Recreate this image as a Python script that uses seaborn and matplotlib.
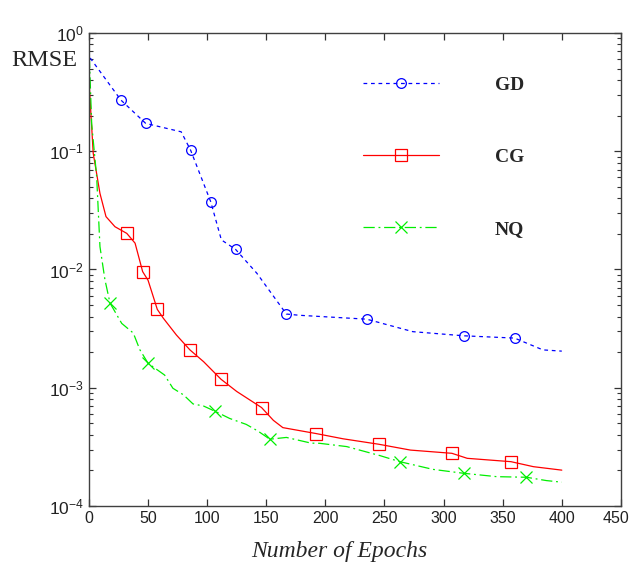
import numpy as np
import pandas as pd
import matplotlib
matplotlib.use("Agg")
import matplotlib.pyplot as plt
import matplotlib.transforms as mtransforms
import seaborn as sns
from matplotlib.ticker import LogLocator, LogFormatterMathtext, NullFormatter

# ---- data ----
gd_x = [1, 27, 48, 78, 86, 103, 112, 124, 142, 167, 178, 235, 274, 317, 360, 384, 400]
gd_y = [0.615, 0.271, 0.172, 0.146, 0.102, 0.0374, 0.0178, 0.0148, 0.0093, 0.0042,
        0.0041, 0.0038, 0.00298, 0.00275, 0.00263, 0.00209, 0.00204]
gd_marks = [1, 2, 4, 5, 7, 9, 11, 13, 14]

cg_x = [0, 3.6, 9.3, 14.4, 22, 32, 39, 45.4, 50, 57.8, 63, 74, 85.4, 97, 111.7, 125, 146,
        156, 164, 192, 215, 245, 272, 307, 320, 357, 376, 400]
cg_y = [0.40, 0.096, 0.044, 0.028, 0.023, 0.0202, 0.0167, 0.0096, 0.0081, 0.0046, 0.00386,
        0.00279, 0.00209, 0.00166, 0.00118, 0.00093, 0.00068, 0.00053, 0.00046, 0.00041,
        0.00037, 0.000333, 0.000297, 0.000279, 0.000253, 0.000237, 0.000215, 0.000201]
cg_marks = [5, 7, 9, 12, 14, 16, 19, 21, 23, 25]

nq_x = [0.3, 2.3, 6.5, 9.3, 13.5, 17.8, 27.7, 37.5, 43, 50, 64, 71, 80, 88, 97, 107, 119,
        133, 143, 153, 167, 188, 195, 218, 246, 263, 291, 317, 345, 370, 387, 400]
nq_y = [0.63, 0.17, 0.061, 0.0156, 0.0082, 0.0052, 0.0035, 0.0029, 0.0021, 0.00161,
        0.00128, 0.00099, 0.00087, 0.00073, 0.0007, 0.00063, 0.00055, 0.00049, 0.00043,
        0.000367, 0.00038, 0.00034, 0.000339, 0.000318, 0.000267, 0.000237, 0.000204,
        0.000189, 0.000177, 0.000175, 0.000164, 0.000159]
nq_marks = [5, 9, 15, 19, 25, 27, 29]

labels = ["GD", "CG", "NQ"]
x_ticks = [0, 50, 100, 150, 200, 250, 300, 350, 400, 450]

sns.set_style("ticks")
plt.rcParams["font.family"] = ["Liberation Sans", "DejaVu Sans"]
plt.rcParams["mathtext.fontset"] = "custom"
plt.rcParams["mathtext.rm"] = "Liberation Sans"
plt.rcParams["mathtext.it"] = "Liberation Sans:italic"

fig = plt.figure(figsize=(6.31, 5.67), dpi=100)
ax = fig.add_axes([0.141, 0.1076, 0.843, 0.8342])

df_gd = pd.DataFrame({"x": gd_x, "y": gd_y})
df_cg = pd.DataFrame({"x": cg_x, "y": cg_y})
df_nq = pd.DataFrame({"x": nq_x, "y": nq_y})

sns.lineplot(data=df_gd, x="x", y="y", ax=ax, color="#0000ff", lw=0.9,
             linestyle=(0, (3, 3)), marker="o", markersize=7, mfc="none", mec="#0000ff",
             mew=0.9, markevery=gd_marks, label=labels[0], estimator=None, sort=False)
sns.lineplot(data=df_cg, x="x", y="y", ax=ax, color="#ff0000", lw=0.9,
             linestyle="-", marker="s", markersize=8, mfc="none", mec="#ff0000",
             mew=0.9, markevery=cg_marks, label=labels[1], estimator=None, sort=False)
sns.lineplot(data=df_nq, x="x", y="y", ax=ax, color="#00ee00", lw=0.9,
             linestyle=(0, (9, 3, 1.5, 3)), marker="x", markersize=9, mec="#00ee00",
             mew=0.9, markevery=nq_marks, label=labels[2], estimator=None, sort=False)

ax.set_yscale("log")
ax.set_xlim(0, 450)
ax.set_ylim(1e-4, 1e0)
ax.set_xticks(x_ticks)
ax.xaxis.set_minor_locator(plt.NullLocator())
ax.yaxis.set_major_locator(LogLocator(base=10, numticks=10))
ax.yaxis.set_major_formatter(LogFormatterMathtext())
ax.yaxis.set_minor_locator(LogLocator(base=10, subs=np.arange(2, 10), numticks=20))
ax.yaxis.set_minor_formatter(NullFormatter())

ax.tick_params(which="both", direction="in", top=True, right=True, colors="#333333",
               labelcolor="#222222", labelsize=11.5)
ax.tick_params(axis="y", labelsize=12.5)
ax.tick_params(which="major", length=5, width=0.9)
ax.tick_params(which="minor", length=3, width=0.8)
for s in ax.spines.values():
    s.set_color("#404040")
    s.set_linewidth(1.0)
    s.set_visible(True)

# keep the last x tick label ("450") inside the canvas
fig.canvas.draw()
last = ax.get_xticklabels()[-1]
last.set_transform(last.get_transform() +
                   mtransforms.ScaledTranslation(-5 / 100, 0, fig.dpi_scale_trans))

ax.set_xlabel("Number of Epochs", family=["Liberation Serif", "DejaVu Serif"],
              style="italic", fontsize=17)
ax.xaxis.set_label_coords(0.47, -0.075)
ax.set_ylabel("")
fig.text(0.018, 0.893, "RMSE", family=["Liberation Serif", "DejaVu Serif"],
         fontsize=17.5, va="center", ha="left")

leg = ax.legend(loc="upper left", bbox_to_anchor=(0.515, 0.908), frameon=False,
                handlelength=3.9, handletextpad=2.9, labelspacing=2.8, borderpad=0,
                borderaxespad=0,
                prop={"family": ["Liberation Serif", "DejaVu Serif"], "weight": "bold",
                      "size": 14})

fig.savefig("out.png", dpi=100, facecolor="white")
